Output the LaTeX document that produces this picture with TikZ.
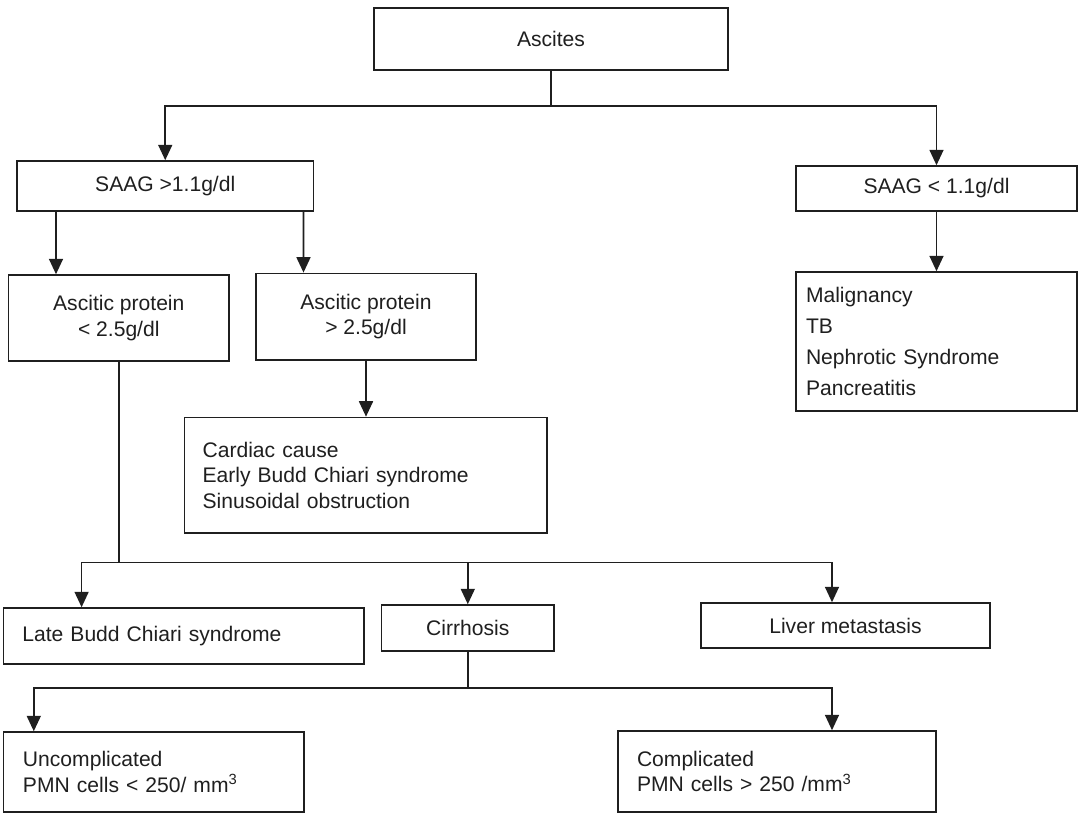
\documentclass[tikz,border=0pt]{standalone}
\usepackage{fontspec}
\setmainfont{Liberation Sans}
\usepackage{xcolor}
\usepackage{tikz}
\usetikzlibrary{arrows.meta}

\begin{document}
\begin{tikzpicture}[
  line width=1.1pt, draw=black!88, text=black!88,
  font=\fontsize{15}{18}\selectfont,
  box/.style={draw, line width=1.1pt, inner sep=0pt, align=center},
  listbox/.style={draw, line width=1.1pt, inner ysep=0pt, align=left},
  arr/.style={-{Triangle[width=10pt,length=11pt]}}
]
\useasboundingbox (0,0) rectangle (26.95,-20.325);

% top level
\node[box, minimum width=8.85cm, minimum height=1.55cm] (asc) at (13.775,-0.975) {Ascites};
\node[box, minimum width=7.41cm, minimum height=1.25cm] (hi) at (4.131,-4.65) {SAAG >1.1g/dl};
\node[box, minimum width=7.025cm, minimum height=1.125cm] (lo) at (23.4125,-4.7125) {SAAG < 1.1g/dl};

% protein split
\node[box, minimum width=5.51cm, minimum height=2.15cm] (pl) at (2.97,-7.95) {Ascitic protein\\< 2.5g/dl};
\node[box, minimum width=5.5cm, minimum height=2.1675cm] (ph) at (9.15,-7.9175) {Ascitic protein\\> 2.5g/dl};
\node[listbox, text width=8.16cm, inner xsep=0.45cm, minimum height=2.8875cm] (card) at (9.145,-11.88)
  {Cardiac cause\\Early Budd Chiari syndrome\\Sinusoidal obstruction};
\node[listbox, text width=6.525cm, inner xsep=0.25cm, minimum height=3.475cm,
  font=\fontsize{15}{22}\selectfont] (mal) at (23.4125,-8.5375)
  {Malignancy\\TB\\Nephrotic Syndrome\\Pancreatitis};

% low protein causes
\node[listbox, text width=8.065cm, inner xsep=0.475cm, minimum height=1.4cm] (late) at (4.5925,-15.9)
  {Late Budd Chiari syndrome};
\node[box, minimum width=4.31cm, minimum height=1.15cm] (cirr) at (11.695,-15.7) {Cirrhosis};
\node[box, minimum width=7.225cm, minimum height=1.125cm] (liver) at (21.1375,-15.6375) {Liver metastasis};

% cirrhosis outcomes
\node[listbox, text width=6.53cm, inner xsep=0.49cm, minimum height=2cm] (unc) at (3.84,-19.3)
  {Uncomplicated\\PMN cells < 250/ mm\textsuperscript{3}};
\node[listbox, text width=7cm, inner xsep=0.475cm, minimum height=2.025cm] (comp) at (19.425,-19.2875)
  {Complicated\\PMN cells > 250 /mm\textsuperscript{3}};

% connectors
\coordinate (bus1) at (asc.south |- 0,-2.65);
\draw (asc.south) -- (bus1);
\draw[arr] (bus1) -| (hi.north);
\draw[arr] (bus1) -| (lo.north);

\draw[arr] ([xshift=-2.731cm]hi.south) -- ([xshift=-1.57cm]pl.north);
\draw[arr] ([xshift=3.456cm]hi.south) -- ([xshift=-1.5625cm]ph.north);
\draw[arr] (ph.south) -- (ph.south |- card.north);
\draw[arr] (lo.south) -- (mal.north);

\coordinate (bus2) at (pl.south |- 0,-14.0575);
\draw (pl.south) -- (bus2);
\draw[arr] (bus2) -| ([xshift=-2.5525cm]late.north);
\draw[arr] (bus2) -| (cirr.north);
\draw[arr] (bus2) -| ([xshift=-0.3375cm]liver.north);

\coordinate (bus3) at (cirr.south |- 0,-17.2);
\draw (cirr.south) -- (bus3);
\draw[arr] (bus3) -| ([xshift=-2.995cm]unc.north);
\draw[arr] (bus3) -| ([xshift=1.375cm]comp.north);
\end{tikzpicture}
\end{document}
